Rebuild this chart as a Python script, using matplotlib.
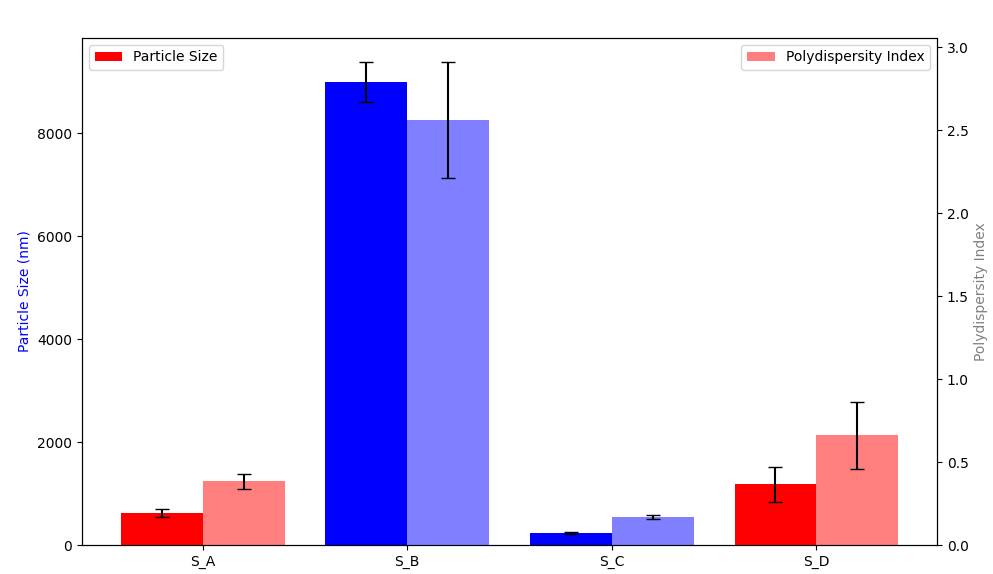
import matplotlib
matplotlib.use("Agg")
import matplotlib.pyplot as plt
import numpy as np

samples = ["S_A", "S_B", "S_C", "S_D"]
size_mean = [620, 8990, 230, 1180]
size_err = [70, 390, 20, 340]
pdi_mean = [0.385, 2.56, 0.169, 0.66]
pdi_err = [0.045, 0.35, 0.01, 0.20]
bar_colors = ["red", "blue", "blue", "red"]

fig = plt.figure(figsize=(9.93, 5.74), dpi=100)
ax1 = fig.add_axes([0.0826, 0.0505, 0.861, 0.8835])
ax2 = ax1.twinx()

x = np.arange(len(samples))
w = 0.4
ax1.bar(x - w / 2, size_mean, w, yerr=size_err, color=bar_colors, capsize=5,
        ecolor="black", label="Particle Size")
ax2.bar(x + w / 2, pdi_mean, w, yerr=pdi_err, color=bar_colors, alpha=0.5, capsize=5,
        ecolor="black", label="Polydispersity Index")

ax1.set_xticks(x)
ax1.set_xticklabels(samples)
ax1.set_ylabel("Particle Size (nm)", color="blue")
ax2.set_ylabel("Polydispersity Index", color="gray")
ax1.legend(loc="upper left")
ax2.legend(loc="upper right")

fig.savefig("out.png", dpi=100)
